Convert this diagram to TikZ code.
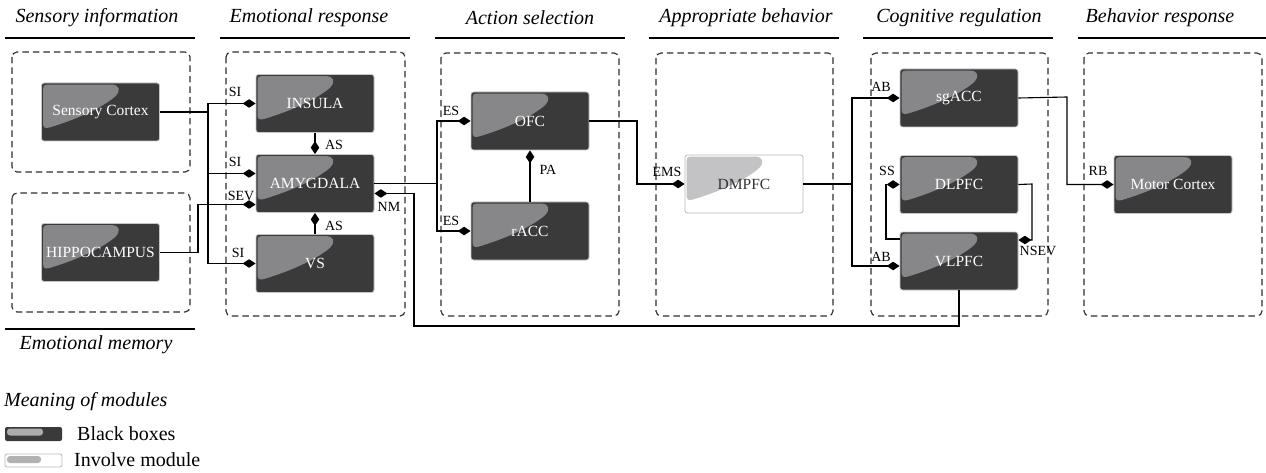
\documentclass[tikz,border=0pt]{standalone}
\usepackage{fontspec}
\setmainfont{Liberation Serif}
\usetikzlibrary{arrows.meta}

\definecolor{boxfill}{HTML}{3A3A3A}
\definecolor{glossdark}{HTML}{87878A}
\definecolor{glosslight}{HTML}{C3C3C5}
\definecolor{frameline}{HTML}{2E2E2E}

% module: box, swoosh in its upper left corner, then the text on top
% #1 = dark/light, #2 = name, #3 = position, #4 = text
\newcommand{\module}[4][dark]{%
  \node[#1 box] (#2) at (#3) {};
  \begin{scope}[shift={(#2.north west)}]
    \fill[#1 gloss] (2,6) .. controls (2,3) and (3,2) .. (6,2) -- (70,2)
      .. controls (79,2) and (80,8) .. (74,14)
      .. controls (60,26) and (32,38) .. (8,45)
      .. controls (4,46) and (2,45) .. (2,41) -- cycle;
  \end{scope}
  \node[#1 text] (#2 text) at (#2) {#4};}

\begin{document}
\begin{tikzpicture}[x=1pt,y=-1pt,>={Diamond[length=13pt,width=8.5pt]},
    dark box/.style={rectangle,rounded corners=2.5pt,minimum width=118pt,minimum height=58pt,inner sep=0pt,
      fill=boxfill,draw=gray!45,line width=0.8pt},
    light box/.style={dark box,fill=white,draw=gray!55},
    dark gloss/.style={fill=glossdark},
    light gloss/.style={fill=glosslight},
    dark text/.style={inner sep=0pt,text=white,font=\fontsize{15.5}{17}\selectfont},
    light text/.style={dark text,text=black!80},
    link/.style={->,line width=1.1pt},
    frame/.style={draw=frameline,line width=1.15pt,dash pattern=on 6.5pt off 4pt,rounded corners=5pt},
    rule/.style={line width=1.2pt},
    heading/.style={font=\fontsize{20}{22}\selectfont\itshape},
    tag/.style={inner sep=0pt,font=\fontsize{14}{16}\selectfont},
    legend/.style={inner sep=0pt,anchor=west,font=\fontsize{20}{22}\selectfont}]
  \useasboundingbox (0,0) rectangle (1266,473);

  % column titles
  \foreach \x/\t/\c in {97/Sensory information/100, 309/Emotional response/315, 530/Action selection/529.5,
      746/Appropriate behavior/744, 959/Cognitive regulation/958, 1160/Behavior response/1172.5} {
    \node[heading] (h\c) at (\x,18) {\t};
    \draw[rule] (\c-95,38) -- (\c+95,38);
  }
  \draw[rule] (5,329) -- (195,329);
  \node[heading] (memory) at (96,345) {Emotional memory};

  % dashed frames
  \draw[frame] (12,52) rectangle (190,172);
  \draw[frame] (12,193) rectangle (190,312);
  \draw[frame] (226,52) rectangle (405,316);
  \draw[frame] (441,53) rectangle (619,316);
  \draw[frame] (656,53) rectangle (833,316);
  \draw[frame] (871,53) rectangle (1048,316);
  \draw[frame] (1084,53) rectangle (1262,316);

  % modules
  \module{sens}{100.5,112}{Sensory Cortex}
  \module{hippo}{100.5,252.5}{HIPPOCAMPUS}
  \module{ins}{315,103.5}{INSULA}
  \module{amy}{315,183.5}{AMYGDALA}
  \module{vs}{315,263.5}{VS}
  \module{ofc}{530,121}{OFC}
  \module{racc}{530,231}{rACC}
  \module[light]{dmpfc}{744,184}{DMPFC}
  \module{sg}{959,98}{sgACC}
  \module{dl}{959,184.5}{DLPFC}
  \module{vl}{959,261}{VLPFC}
  \module{motor}{1173,184.5}{Motor Cortex}

  % bus points
  \coordinate (sbus) at (208,112);
  \coordinate (hbus) at (198,252.5);
  \coordinate (abus) at (437,183.5);
  \coordinate (obus) at (637,121);
  \coordinate (dbus) at (852,184);
  \coordinate (gbus) at (1067,97);
  \coordinate (nmc) at (414,326);

  % connectors
  \draw[line width=1.1pt] (sens.east) -- (sbus);
  \draw[link] (sbus) |- (ins.west);
  \draw[link] (sbus) |- ([yshift=10pt]amy.west);
  \draw[link] (sbus) |- (vs.west);
  \draw[link] (hippo.east) -- (hbus) |- ([yshift=-21pt]amy.west);
  \draw[link] (ins) -- (amy);
  \draw[link] (vs) -- (amy);
  \draw[line width=1.1pt] (amy.east) -- (abus);
  \draw[link] (abus) |- (ofc.west);
  \draw[link] (abus) |- (racc.west);
  \draw[link] (vl.south) |- (nmc) |- ([yshift=-10pt]amy.east);
  \draw[link] (racc) -- (ofc);
  \draw[link] (ofc.east) -- (obus) |- (dmpfc.west);
  \draw[line width=1.1pt] (dmpfc.east) -- (dbus);
  \draw[link] (dbus) |- (sg.west);
  \draw[link] (dbus) |- ([yshift=-5pt]vl.west);
  \draw[link] ([yshift=22pt]vl.west) -- (886,239) |- (dl.west);
  \draw[link] (dl.east) -- (1032,184) |- ([yshift=21pt]vl.east);
  \draw[link] (sg.east) -- (gbus) |- (motor.west);

  % connector tags
  \node[tag] (si1) at (235,92) {SI};
  \node[tag] (si2) at (235,162) {SI};
  \node[tag] (sev) at (241,196) {SEV};
  \node[tag] (si3) at (238,253) {SI};
  \node[tag] (as1) at (334,145) {AS};
  \node[tag] (as2) at (334,226) {AS};
  \node[tag] (nm) at (389,207) {NM};
  \node[tag] (es1) at (451,111) {ES};
  \node[tag] (es2) at (451,221) {ES};
  \node[tag] (pa) at (548,170) {PA};
  \node[tag] (ems) at (667,172) {EMS};
  \node[tag] (ab1) at (881,87) {AB};
  \node[tag] (ss) at (887,171) {SS};
  \node[tag] (ab2) at (881,257) {AB};
  \node[tag] (nsev) at (1038,251) {NSEV};
  \node[tag] (rb) at (1098,171) {RB};

  % legend
  \node[legend,font=\fontsize{20}{22}\selectfont\itshape] (mean) at (4,402) {Meaning of modules};
  \fill[boxfill,rounded corners=2pt] (5,427) rectangle (62,441);
  \fill[gray!65,rounded corners=3pt] (7,428.5) rectangle (43,435.5);
  \node[legend] (lblack) at (77,434) {Black boxes};
  \draw[gray!55,fill=white,line width=0.8pt,rounded corners=2pt] (5,454) rectangle (62,467);
  \fill[gray!60,rounded corners=3pt] (7,456) rectangle (41,463);
  \node[legend] (linv) at (74,460) {Involve module};
\end{tikzpicture}
\end{document}
